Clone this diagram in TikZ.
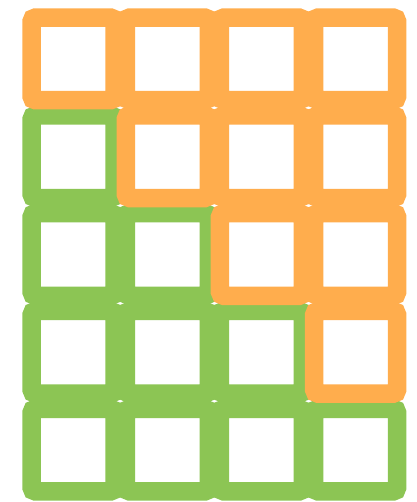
\documentclass[tikz,border=0pt]{standalone}
\definecolor{cellorange}{HTML}{FFAD4D}
\definecolor{cellgreen}{HTML}{8CC554}
\begin{document}
\begin{tikzpicture}[x=1pt,y=1pt,
  cellbox/.style={rectangle, inner sep=0pt, outer sep=0pt,
    minimum width=83pt, minimum height=82.7pt,
    line width=18.5pt, rounded corners=4pt, fill=white},
  gcell/.style={cellbox, draw=cellgreen},
  ocell/.style={cellbox, draw=cellorange}]
\useasboundingbox (0,0) rectangle (416,-502);
% green cells (lower-left part)
\foreach \j in {1,...,4}{
  \foreach \i in {0,...,3}{
    \pgfmathtruncatemacro{\ok}{\i<\j ? 1 : 0}
    \ifnum\ok=1
      \node[gcell] (g\i\j) at ({73.05+94.2*\i},{-(58.9+97.8*\j)}) {};
    \fi
  }
}
% orange cells (upper-right part)
\foreach \j in {0,...,3}{
  \foreach \i in {0,...,3}{
    \pgfmathtruncatemacro{\ok}{\i<\j ? 0 : 1}
    \ifnum\ok=1
      \node[ocell] (o\i\j) at ({73.05+94.2*\i},{-(58.9+97.8*\j)}) {};
    \fi
  }
}
\end{tikzpicture}
\end{document}
